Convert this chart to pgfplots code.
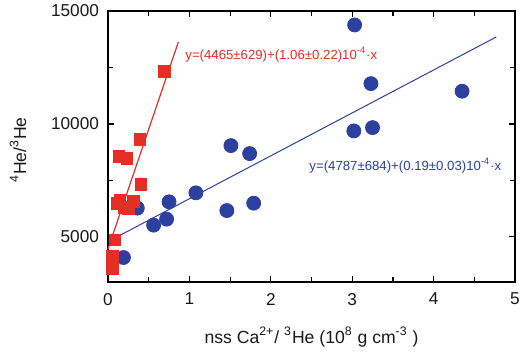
\documentclass[border=0pt]{standalone}
\usepackage{pgfplots}
\pgfplotsset{compat=1.18}
\usepackage{fontspec}
\setmainfont{Liberation Sans}
\definecolor{cblue}{RGB}{44,64,160}
\definecolor{cred}{RGB}{228,46,38}
\begin{document}
\begin{tikzpicture}
\begin{axis}[
  name=ax,
  width=203.5pt, height=135.5pt, scale only axis,
  xmin=0, xmax=5, ymin=3000, ymax=15000,
  xtick={0,1,2,3,4,5}, minor xtick={0.5,1.5,2.5,3.5,4.5},
  ytick={5000,10000,15000}, minor ytick={7500,12500},
  tick align=inside, tick pos=both,
  major tick length=3pt, minor tick length=2.5pt,
  every tick/.style={black, line width=0.6pt},
  axis line style={line width=0.7pt},
  scaled y ticks=false,
  /pgf/number format/assume math mode=true,
  /pgf/number format/set thousands separator={},
  ticklabel style={font=\fontsize{8.6pt}{10pt}\selectfont, text=black!90},
  xticklabel style={yshift=-2pt},
  yticklabel style={xshift=-1pt},
  xlabel={nss Ca\textsuperscript{2+}/ \textsuperscript{3}He (10\textsuperscript{8} g cm\textsuperscript{-3} )},
  label style={font=\fontsize{8.8pt}{10pt}\selectfont, text=black!90},
  xlabel style={yshift=-4pt},
  clip=false,
]
\coordinate (sw) at (rel axis cs:0,0);
\coordinate (ne) at (rel axis cs:1,1);
% blue line
\addplot[cblue, line width=0.5pt] coordinates {(0,4787) (4.77,13850)};
% red line
\addplot[cred, line width=0.6pt] coordinates {(0,4465) (0.864,13623)};
% blue circles
\addplot[only marks, mark=*, mark size=3.5pt, cblue, mark options={draw=cblue, fill=cblue}] coordinates {
(0.19,4084) (0.36,6270) (0.56,5518) (0.72,5783) (0.75,6549) (1.08,6947)
(1.46,6164) (1.51,9040) (1.74,8686) (1.79,6490)
(3.03,14381) (3.23,11784) (4.35,11447) (3.02,9690) (3.25,9836)
};
% red squares
\addplot[only marks, mark=square*, mark size=2.9pt, cred, mark options={draw=cred, fill=cred}] coordinates {
(0.69,12314) (0.39,9323) (0.135,8571) (0.23,8465) (0.405,7332)
(0.147,6624) (0.107,6474) (0.31,6562) (0.25,6270) (0.20,6300)
(0.086,4867) (0.057,4128) (0.053,3597)
};
\node[anchor=west, text=cred, font=\fontsize{6.6pt}{8pt}\selectfont, inner sep=0pt] at (axis cs:0.946,13050) {y=(4465±629)+(1.06±0.22)10\textsuperscript{-4}·x};
\node[anchor=west, text=cblue, font=\fontsize{6.6pt}{8pt}\selectfont, inner sep=0pt] at (axis cs:2.47,8142) {y=(4787±684)+(0.19±0.03)10\textsuperscript{-4}·x};
\node[rotate=90, anchor=center, inner sep=0pt, text=black!90, font=\fontsize{8.8pt}{10pt}\selectfont] at (axis description cs:-0.221,0.487) {\textsuperscript{4}He/\textsuperscript{3}He};
\end{axis}
\pgfresetboundingbox
\path[use as bounding box] ([xshift=-54pt,yshift=-35pt]sw) rectangle ([xshift=4.5pt,yshift=5.5pt]ne);
\end{tikzpicture}
\end{document}
